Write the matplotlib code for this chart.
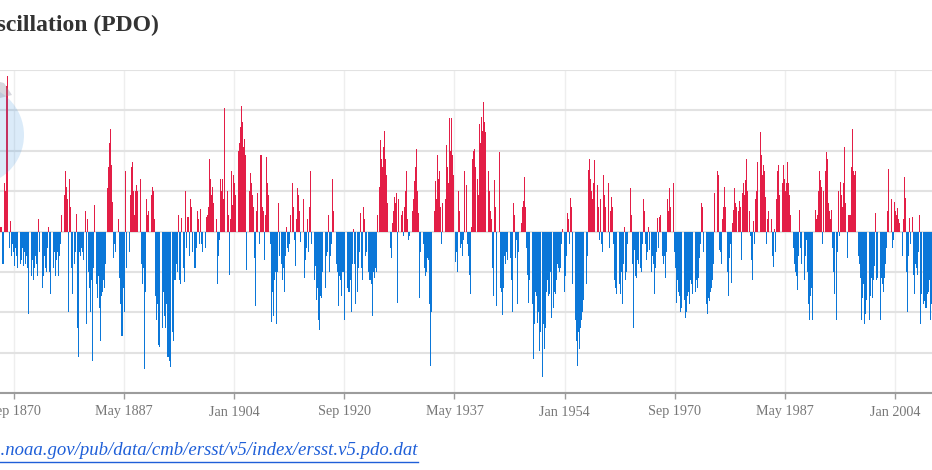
import numpy as np
import matplotlib.pyplot as plt
from matplotlib.patches import Ellipse, Polygon
from matplotlib.lines import Line2D

plt.rcParams['font.family'] = ['Liberation Serif', 'DejaVu Serif']

# PDO index, two-month steps (Jan-Feb, Mar-Apr, ...), one row per year
first_year = 1868
pdo = [
    [-0.3, -0.5, -0.4, 0.1, 0.1, -0.8],      # 1868
    [-0.8, 1.2, 1.0, 3.6, 3.85, -0.4],
    [0.25, -0.6, -0.3, -0.5, -0.85, -0.4],   # 1870
    [-0.6, -0.9, -0.5, -0.8, -0.7, -0.4],
    [-0.85, -0.5, -0.8, -0.6, -0.9, -2.05],
    [-1.6, -1.1, -0.7, -1.2, -0.9, -0.6],
    [-0.8, -1.1, 0.3, -0.5, 0.3, -1.4],
    [-1.1, -0.6, -0.9, -1.0, -0.4, 0.1],
    [-1.0, -1.55, -2.2, -0.9, -0.5, -1.1],
    [-0.7, -0.5, -1.1, -0.6, -0.3, 0.4],
    [0.4, 0.9, 1.5, 1.1, 0.8, -2.0],
    [1.3, 0.6, -0.9, -1.55, -0.8, -0.5],
    [0.43, -2.4, -3.1, -0.5, -0.6, -0.4],    # 1880
    [-0.5, -0.7, 0.5, -2.3, 0.3, -1.0],
    [-1.4, -2.0, -1.2, -3.2, -0.9, 0.65],
    [-1.3, -1.65, -1.1, -1.9, -2.7, -1.6],
    [-1.5, -1.2, -1.4, -0.8, 1.07, 1.6],
    [2.2, 2.55, 1.65, 0.74, -0.66, -0.3],
    [-0.5, 0.6, 0.3, -1.15, -1.8, -2.6],
    [-2.6, -1.4, -2.0, 1.5, -0.9, -0.6],
    [-0.5, 0.9, 1.6, 1.73, 1.0, 0.4],
    [1.0, 1.15, 1.0, -1.2, 1.3, -0.8],
    [-1.3, -0.9, -3.4, -1.5, 0.8, 0.4],      # 1890
    [0.5, 0.3, 0.9, 1.1, 1.0, 0.3],
    [-1.6, -2.2, -1.8, -2.8, -2.85, -2.0],
    [-2.4, -1.5, -2.1, -2.4, -1.8, -3.1],
    [-3.1, -3.2, -3.35, -2.5, -2.7, -1.2],
    [-1.2, -0.8, -1.0, 0.4, -1.2, -1.3],
    [0.33, -0.9, -1.25, 1.0, -0.4, 0.35],
    [0.35, -0.6, 0.8, 0.6, -0.5, -0.9],
    [-0.9, -0.4, 0.5, 0.3, -0.3, 0.55],
    [-0.3, -0.5, -1.5, -0.4, 0.35, 0.4],
    [0.6, 1.8, 1.3, 0.9, 1.1, 0.7],          # 1900
    [1.1, 0.3, -1.3, -0.6, -0.2, 1.3],
    [1.0, 1.3, 0.8, 3.05, 1.8, 1.0],
    [0.4, -1.07, 0.3, 1.5, 0.65, 1.4],
    [1.2, 0.9, 1.5, 2.0, 2.2, 2.6],
    [3.1, 2.7, 2.1, 2.3, 1.9, -0.95],
    [1.4, 1.0, 1.45, 1.2, 0.9, 0.6],
    [-0.65, -1.85, 0.5, 0.95, -0.3, 1.9],
    [1.9, 0.6, 0.5, -0.7, 0.4, 1.85],
    [1.2, 0.9, -0.3, -2.25, -1.5, -2.1],
    [-1.2, -1.0, -2.3, -1.0, 0.7, -0.6],     # 1910
    [-0.8, -1.2, -0.9, -1.5, -0.6, 0.1],
    [-0.4, -0.5, -0.3, 0.4, 1.2, 0.6],
    [-0.2, -0.85, 0.3, 1.07, 0.9, 0.5],
    [-0.25, 0.2, 0.8, -1.15, -0.7, -0.4],
    [0.3, -0.5, 0.6, 1.5, -0.3, -1.5],
    [-1.2, -0.85, -1.7, -1.4, -2.2, -2.45],
    [-1.6, -1.65, -1.0, -1.0, -1.4, -0.6],
    [-0.5, 0.4, -1.0, -0.6, -0.3, 1.3],
    [0.5, -0.5, -0.8, -1.0, -1.85, -1.1],
    [-1.2, -1.6, -1.0, -1.0, -2.2, -1.4],    # 1920
    [-1.4, -1.5, -1.5, -1.2, -2.0, -0.8],
    [0.05, -0.8, -1.8, -1.5, -0.9, -0.5],
    [0.45, -0.9, -1.2, 0.6, 0.3, -0.6],
    [-0.5, -1.0, -1.2, -1.2, -1.3, -2.1],
    [-1.0, -1.15, -0.9, -1.0, 0.4, 1.1],
    [2.26, 1.8, 1.6, 2.1, 2.5, 1.8],
    [1.4, 0.7, -0.2, -0.4, -0.65, 0.2],
    [0.5, 0.86, 0.7, 0.95, -1.77, 0.8],
    [0.8, 0.4, 0.5, -0.1, 0.6, 1.0],
    [1.5, 0.3, -0.2, -0.1, -0.2, 0.5],       # 1930
    [0.8, 1.25, 1.6, 2.05, 1.0, 0.45],
    [-1.65, -0.5, 0.45, -0.3, -0.9, -1.1],
    [-1.0, -0.65, -0.7, -1.8, -3.33, -2.0],
    [-1.2, 0.5, 1.25, 0.8, 1.9, 1.3],
    [1.5, 0.6, -0.3, 0.7, 1.25, 0.8],
    [2.15, 1.6, 1.2, 2.8, 2.0, 2.8],
    [1.9, 1.4, -0.75, -0.5, -1.0, 1.0],
    [0.5, -0.4, -0.3, -0.6, -0.2, 1.5],
    [1.15, -0.3, -0.6, -1.07, -1.56, 0.1],
    [1.8, 2.0, 2.05, 1.6, 1.3, 0.9],         # 1940
    [2.67, 2.2, 2.84, 2.5, 3.2, 2.7],
    [2.47, 1.93, 1.5, 1.0, 0.5, 0.3],
    [-0.9, -1.6, 1.28, 0.6, -1.85, 0.4],
    [1.97, -1.4, -1.5, -2.06, -1.4, -0.6],
    [-0.8, -0.5, -0.7, 0.3, -0.65, -1.2],
    [-2.0, 0.7, 0.4, -0.65, -0.2, -1.8],
    [-0.5, 0.3, 0.2, 0.6, 0.75, 1.36],
    [0.6, -0.4, -1.07, -1.77, -1.2, -1.6],
    [-1.8, -3.17, -2.3, -1.5, -1.6, -2.26],
    [-2.0, -2.95, -2.5, -3.6, -2.3, -2.9],   # 1950
    [-2.4, -1.5, -1.2, -1.6, -1.56, -1.0],
    [-2.15, -1.9, -1.5, -1.56, -1.2, -0.8],
    [-0.9, -1.0, -0.9, -0.3, 0.05, -1.5],
    [-1.1, -0.6, 0.45, 0.3, -0.3, 0.82],
    [0.6, -1.3, -1.6, -2.2, -2.7, -3.33],
    [-2.5, -2.9, -2.4, -2.2, -2.0, -1.7],
    [-1.56, -1.3, -0.6, 1.52, 1.8, 1.3],
    [1.0, 0.8, 1.2, 1.77, 1.4, 1.15],
    [0.6, -0.2, 0.8, -0.3, -0.5, 1.4],
    [0.9, 0.6, -0.2, 1.2, -0.4, 0.5],        # 1960
    [0.86, 0.6, -0.3, -1.2, -1.4, -1.56],
    [-1.77, -1.3, -1.56, -1.0, -1.8, -0.8],
    [0.1, -1.2, -1.0, -0.3, -0.8, 1.07],
    [0.4, -0.8, -2.4, -0.45, -1.1, -1.15],
    [-0.7, -0.8, -0.9, -1.0, -0.3, 0.8],
    [0.5, -0.3, -0.7, -0.5, 0.1, -0.45],
    [-1.0, -0.6, -0.8, -1.56, -0.9, -0.5],
    [0.33, -0.4, 0.37, 0.4, -0.6, -0.8],
    [-0.6, -1.15, -0.5, 0.8, 0.5, 1.07],
    [0.6, 0.9, 1.2, -0.5, -0.9, -1.77],      # 1970
    [-1.2, -1.5, -1.6, -2.0, -1.9, -1.2],
    [-1.7, -2.15, -2.0, -1.6, -1.5, -1.8],
    [-1.2, -1.3, -1.56, -1.1, -1.5, -1.2],
    [-1.4, -1.15, -0.65, -0.3, 0.7, 0.6],
    [-0.5, -1.56, -1.8, -2.05, -1.65, -1.73],
    [-1.5, -1.4, -1.2, -0.8, 0.95, 1.3],
    [1.5, 1.4, -0.45, -0.5, -0.8, 0.3],
    [0.6, 1.1, 0.6, -1.0, -1.6, -0.65],
    [-0.3, -1.28, 0.2, 0.53, 1.07, 0.7],
    [0.6, 0.5, 0.75, 0.6, -0.7, 0.95],       # 1980
    [1.2, 0.9, 1.28, 1.8, 1.0, 0.5],
    [-0.1, -0.7, -1.2, 0.25, -0.3, 0.8],
    [1.0, 1.73, 2.1, 2.47, 1.9, 1.4],
    [1.65, 1.5, 0.86, -0.3, 0.3, 0.5],
    [0.82, 0.3, -0.6, -0.87, 0.05, -0.5],
    [0.8, 1.5, 1.65, 0.9, -0.2, 1.2],
    [1.65, 1.3, 1.0, 1.2, 1.73, 1.2],
    [0.9, 0.4, 0.1, -0.4, -0.8, -1.0],
    [-1.1, -1.44, -0.6, 0.53, -0.4, -0.8],
    [-0.75, -1.2, -0.6, -0.2, -1.0, -1.8],   # 1990
    [-2.2, -1.6, -1.4, -2.2, -1.6, 0.53],
    [0.3, 0.4, 1.0, 1.5, 1.28, 1.1],
    [-0.3, 1.0, 1.5, 1.97, 1.8, 0.7],
    [0.5, 0.3, 0.53, -0.4, -1.0, -1.56],
    [-2.2, -0.5, 1.0, -0.1, 1.23, 0.9],
    [0.6, 1.2, 2.1, 0.7, -0.65, 0.4],
    [0.4, 0.4, 1.6, 2.55, 1.5, 1.4],
    [1.5, 0.3, -0.6, -0.8, -1.15, -2.2],
    [-1.65, -1.3, -2.3, -2.05, -1.7, -2.5],
    [-2.2, -1.6, -1.15, -1.65, -1.2, -0.85], # 2000
    [0.45, -1.2, -1.15, -1.6, -2.2, -1.15],
    [-1.3, -1.5, -1.15, -0.8, -0.4, 0.5],
    [1.56, 0.8, 0.8, -0.4, -0.2, 0.74],
    [0.5, 0.4, 0.58, 0.3, 0.2, -1.2],
    [-0.6, 0.3, 1.36, 0.82, -1.0, -2.0],
    [-0.6, 0.33, -0.3, 0.37, -1.07, -1.56],
    [-0.8, -0.9, -1.07, -0.5, 0.4, -2.3],
    [-1.56, -1.8, -1.73, -1.9, -1.9, -1.56],
    [-1.5, -1.2, -2.2, -1.8, -1.5, -1.0],
]

tick_pos = [1870 + 8/12, 1887 + 4/12, 1904, 1920 + 8/12, 1937 + 4/12,
            1954, 1970 + 8/12, 1987 + 4/12, 2004]
tick_labels = ['Sep 1870', 'May 1887', 'Jan 1904', 'Sep 1920', 'May 1937',
               'Jan 1954', 'Sep 1970', 'May 1987', 'Jan 2004']

title = 'Pacific Decadal Oscillation (PDO)'
source = 'https://www.ncei.noaa.gov/pub/data/cmb/ersst/v5/index/ersst.v5.pdo.dat'

vals = np.array(pdo).ravel()
t = first_year + (2*np.arange(len(vals)) + 1)/12

W, H = 932, 470
fig = plt.figure(figsize=(W/100, H/100), dpi=100)

# the picture only shows part of the chart, so the axes run off both sides
ax = fig.add_axes([0, (H-393)/H, 1, (393-70)/H])
cols = np.where(vals >= 0, '#e31e46', '#0b77d8')
ax.bar(t, vals, width=0.85*2/12, color=cols, linewidth=0, zorder=2)

ax.set_xlim(1868.545, 2009.605)
ax.set_ylim(-4, 4)
ax.set_yticks(range(-4, 5))
ax.set_xticks(tick_pos)
ax.set_xticklabels(tick_labels)
ax.grid(axis='y', color='#e2e2e2', lw=1.5)
ax.grid(axis='x', color='#eeeeee', lw=1)
ax.set_axisbelow(True)
for s in ['top', 'left', 'right']:
    ax.spines[s].set_visible(False)
ax.spines['bottom'].set_color('#9c9c9c')
ax.spines['bottom'].set_linewidth(1.5)
ax.tick_params(axis='y', left=False, labelleft=False)
ax.tick_params(axis='x', length=4, width=1, color='#9c9c9c',
               labelcolor='#777777', labelsize=10.2, pad=5)

# hover halo and tooltip edge at the left border
halo = Ellipse((-26.5/W, 1 - 135/H), 2*50.5/W, 2*50.5/H,
               transform=fig.transFigure, color='#3a93e0', alpha=0.18, lw=0)
fig.add_artist(halo)
pointer = Polygon([(0, 1 - 82/H), (4/W, 1 - 83/H), (12/W, 1 - 95/H), (0, 1 - 98/H)],
                  closed=True, transform=fig.transFigure, color='#8e8ea0', alpha=0.35, lw=0)
fig.add_artist(pointer)

fig.text(159/W, 1 - 31/H, title, ha='right', va='baseline', fontsize=17,
         fontweight='bold', color='#333333')
src = fig.text(418/W, 15/H, source, ha='right', va='baseline', fontsize=13.5,
               style='italic', color='#1f5fd8')

fig.canvas.draw()
bb = src.get_window_extent()
fig.add_artist(Line2D([bb.x0/W, bb.x1/W], [8/H, 8/H], transform=fig.transFigure,
                      color='#1f5fd8', lw=1))

fig.savefig('out.png', dpi=100)
